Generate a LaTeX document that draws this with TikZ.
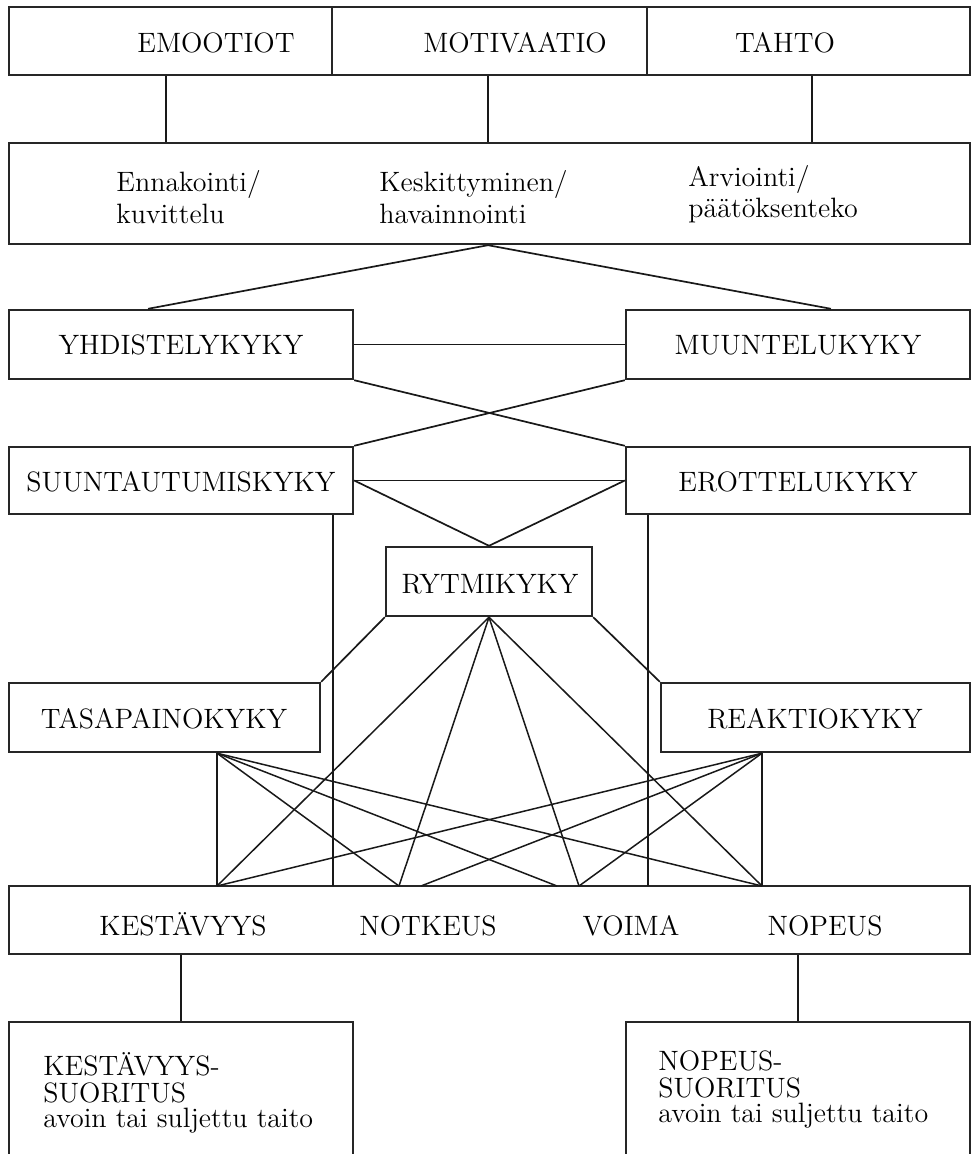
\documentclass[tikz,border=0pt]{standalone}
\usetikzlibrary{fit,calc}
\begin{document}
\begin{tikzpicture}[x=0.5pt,y=-0.5pt,
  box/.style={draw=black!85, line width=1.2pt, inner sep=0pt, rectangle},
  txt/.style={font=\fontsize{14}{16}\selectfont, inner sep=0pt, text=black},
  link/.style={draw=black!90, line width=0.85pt},
  fan/.style={draw=black!90, line width=0.75pt}]
\useasboundingbox (0,0) rectangle (972,1154);
\fill[white] (0,0) rectangle (972,1154);
\clip (0,0) rectangle (972,1154);

% top row: three adjacent cells
\node[box, fit={(9,7) (332,75)}]   (emo) {};
\node[box, fit={(332,7) (647,75)}] (mot) {};
\node[box, fit={(647,7) (970,75)}] (tah) {};
\node[txt, anchor=base] (emoT) at (216,53) {EMOOTIOT};
\node[txt, anchor=base] (motT) at (515,53) {MOTIVAATIO};
\node[txt, anchor=base] (tahT) at (785,53) {TAHTO};

% cognitive processes
\node[box, fit={(9,143) (970,244)}] (kog) {};
\node[txt, anchor=base west] (k1a) at (116,192) {Ennakointi/};
\node[txt, anchor=base west] (k1b) at (116,224) {kuvittelu};
\node[txt, anchor=base west] (k2a) at (379,192) {Keskittyminen/};
\node[txt, anchor=base west] (k2b) at (379,224) {havainnointi};
\node[txt, anchor=base west] (k3a) at (688,187) {Arviointi/};
\node[txt, anchor=base west] (k3b) at (688,218) {päätöksenteko};

% coordinative abilities
\node[box, fit={(9,310) (353,379)}]   (yhd) {};
\node[box, fit={(626,310) (970,379)}] (muu) {};
\node[box, fit={(9,447) (353,514)}]   (suu) {};
\node[box, fit={(626,447) (970,514)}] (ero) {};
\node[box, fit={(386,547) (592,616)}] (ryt) {};
\node[box, fit={(9,683) (320,752)}]   (tas) {};
\node[box, fit={(661,683) (970,752)}] (rea) {};
\node[txt, anchor=base] (yhdT) at (181,355) {YHDISTELYKYKY};
\node[txt, anchor=base] (muuT) at (798,355) {MUUNTELUKYKY};
\node[txt, anchor=base] (suuT) at (181,491) {SUUNTAUTUMISKYKY};
\node[txt, anchor=base] (eroT) at (798,491) {EROTTELUKYKY};
\node[txt, anchor=base] (rytT) at (490,593) {RYTMIKYKY};
\node[txt, anchor=base] (tasT) at (164,728) {TASAPAINOKYKY};
\node[txt, anchor=base] (reaT) at (815,728) {REAKTIOKYKY};

% physical qualities
\node[box, fit={(9,886) (970,954)}] (bot) {};
\node[txt, anchor=base] (kesT) at (183,935) {KESTÄVYYS};
\node[txt, anchor=base] (notT) at (428,935) {NOTKEUS};
\node[txt, anchor=base] (voiT) at (631,935) {VOIMA};
\node[txt, anchor=base] (nopT) at (825,935) {NOPEUS};

% performances (open at the bottom edge)
\node[box, fit={(9,1022) (353,1200)}]   (lk) {};
\node[box, fit={(626,1022) (970,1200)}] (lp) {};
\node[txt, anchor=base west] (lk1) at (43,1075) {KESTÄVYYS-};
\node[txt, anchor=base west] (lk2) at (43,1102) {SUORITUS};
\node[txt, anchor=base west] (lk3) at (43,1127) {avoin tai suljettu taito};
\node[txt, anchor=base west] (lp1) at (658,1070) {NOPEUS-};
\node[txt, anchor=base west] (lp2) at (658,1097) {SUORITUS};
\node[txt, anchor=base west] (lp3) at (658,1122) {avoin tai suljettu taito};

% attachment points on the top edge of the physical-qualities box
\coordinate (kK)  at (217,886);
\coordinate (kN1) at (399,886);
\coordinate (kN2) at (421,886);
\coordinate (kV1) at (557,886);
\coordinate (kV2) at (579,886);
\coordinate (kP)  at (762,886);
\coordinate (kL)  at (333,886);
\coordinate (kR)  at (648,886);
\coordinate (tasF) at (kK |- tas.south);
\coordinate (reaF) at (kP |- rea.south);
\coordinate (apex) at ([xshift=-0.75pt]kog.south);

% top row to cognitive processes
\draw[link] ([xshift=-2.25pt]emo.south) -- ([xshift=-2.25pt]emo.south |- kog.north);
\draw[link] ([xshift=-0.75pt]mot.south) -- ([xshift=-0.75pt]mot.south |- kog.north);
\draw[link] ([xshift=1.75pt]tah.south) -- ([xshift=1.75pt]tah.south |- kog.north);

% cognitive processes to coordinative abilities
\draw[link] (apex) -- ($(yhd.north west)!0.405!(yhd.north east)$);
\draw[link] (apex) -- ($(muu.north west)!0.595!(muu.north east)$);
\draw[link] (yhd.east) -- (muu.west);
\draw[link] (yhd.south east) -- (ero.north west);
\draw[link] (muu.south west) -- (suu.north east);
\draw[link] (suu.east) -- (ero.west);
\draw[link] (suu.east) -- (ryt.north);
\draw[link] (ero.west) -- (ryt.north);
\draw[link] (ryt.south west) -- (tas.north east);
\draw[link] (ryt.south east) -- (rea.north west);
\draw[link] (kL |- suu.south) -- (kL);
\draw[link] (kR |- ero.south) -- (kR);

% coordinative abilities to physical qualities
\foreach \t in {kK,kN1,kV2,kP} \draw[fan] (ryt.south) -- (\t);
\foreach \t in {kK,kN1,kV1,kP} \draw[fan] (tasF) -- (\t);
\foreach \t in {kK,kN2,kV2,kP} \draw[fan] (reaF) -- (\t);

% physical qualities to performances
\draw[link] (lk.north |- bot.south) -- (lk.north);
\draw[link] (lp.north |- bot.south) -- (lp.north);
\end{tikzpicture}
\end{document}
